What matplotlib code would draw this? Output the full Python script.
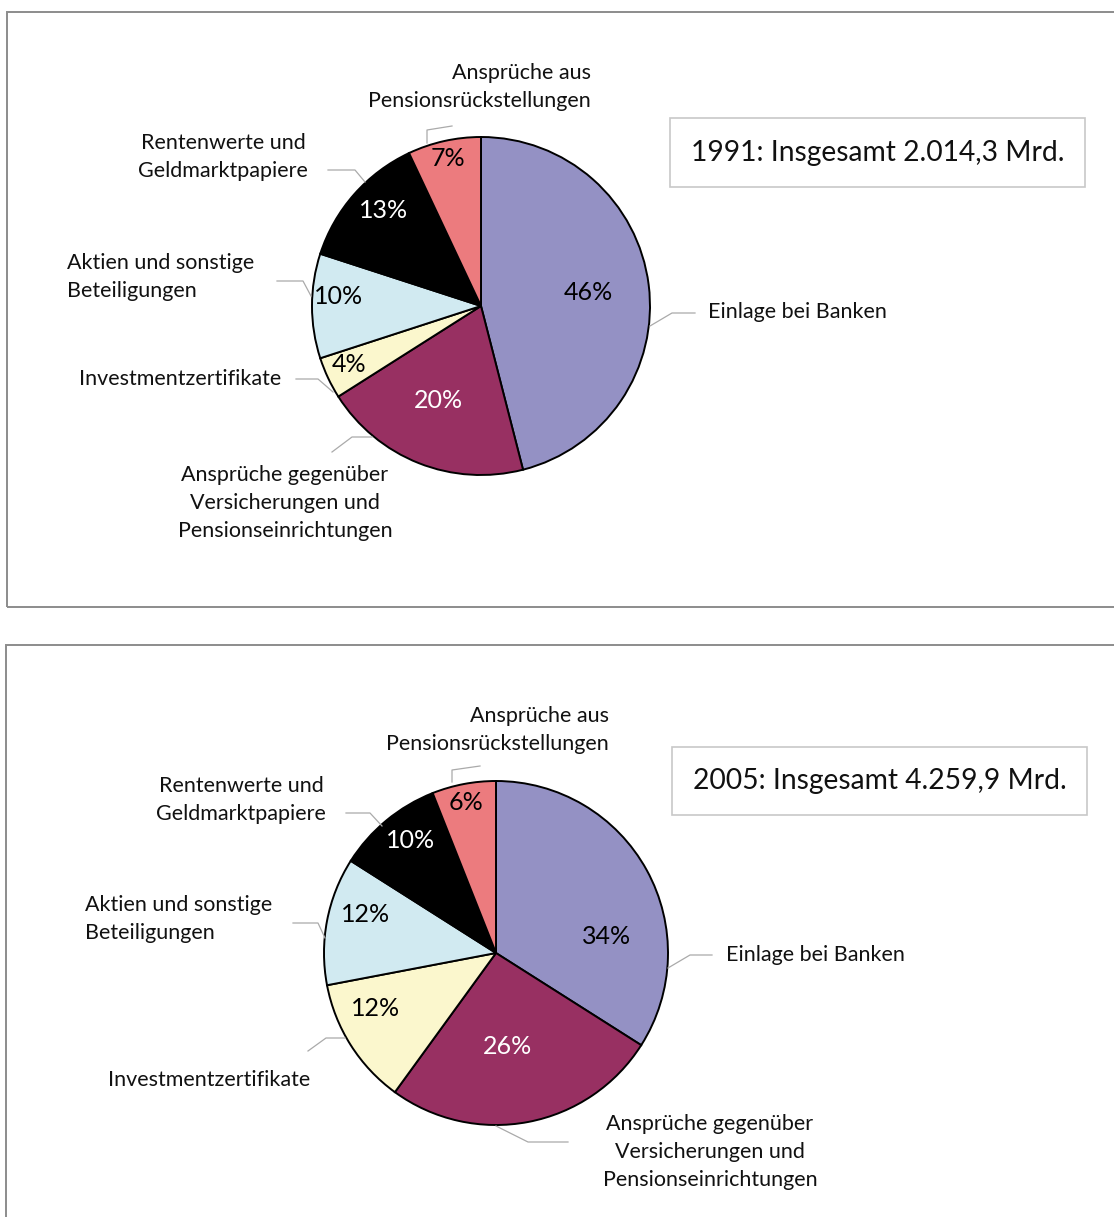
import matplotlib
matplotlib.use("Agg")
import matplotlib.pyplot as plt
from matplotlib.patches import Rectangle

W, H = 1114, 1217

plt.rcParams['font.family'] = ['Lato', 'DejaVu Sans']

# data
categories = ["Einlage bei Banken",
              "Ansprüche gegenüber\nVersicherungen und\nPensionseinrichtungen",
              "Investmentzertifikate",
              "Aktien und sonstige\nBeteiligungen",
              "Rentenwerte und\nGeldmarktpapiere",
              "Ansprüche aus\nPensionsrückstellungen"]
shares_1991 = [46, 20, 4, 10, 13, 7]
shares_2005 = [34, 26, 12, 12, 10, 6]
titles = ["1991: Insgesamt 2.014,3 Mrd.", "2005: Insgesamt 4.259,9 Mrd."]

colors = ["#9491c4", "#983062", "#fbf7cd", "#d1eaf1", "#000000", "#ec7b7e"]
pct_colors = ["black", "white", "black", "black", "white", "black"]


def Y(y):
    # pixel row (from top) -> data y
    return H - y


# layout per panel (pixel coords, y from top)
layouts = [
    dict(center=(481, 306), radius=169,
         pct_pos=[(588, 293), (438, 400), (349, 365), (339, 297), (384, 211), (448, 159)],
         label_pos=[(708, 312, 'left'), (285, 503, 'center'), (180, 379, 'center'),
                    (67, 277, 'left'), (223, 157, 'center'), (591, 87, 'right')],
         leaders=[[(650, 326), (672, 313), (695, 313)],
                  [(372, 437), (352, 437), (332, 452)],
                  [(333, 392), (318, 379), (296, 379)],
                  [(311, 296), (303, 281), (277, 281)],
                  [(365, 182), (355, 170), (328, 170)],
                  [(427, 143), (427, 130), (452, 126)]],
         box=(670, 118, 1085, 187), frame=(7, 12, 607)),
    dict(center=(496, 953), radius=172,
         pct_pos=[(607, 936), (508, 1047), (376, 1008), (366, 914), (411, 841), (466, 803)],
         label_pos=[(726, 955, 'left'), (710, 1152, 'center'), (209, 1080, 'center'),
                    (85, 919, 'left'), (241, 800, 'center'), (609, 730, 'right')],
         leaders=[[(668, 968), (690, 955), (712, 955)],
                  [(496, 1126), (528, 1142), (568, 1142)],
                  [(345, 1038), (326, 1038), (308, 1051)],
                  [(325, 938), (318, 923), (293, 923)],
                  [(382, 826), (370, 813), (346, 813)],
                  [(452, 782), (452, 770), (480, 766)]],
         box=(672, 747, 1087, 815), frame=(6, 645, 1240)),
]

fig = plt.figure(figsize=(W / 100, H / 100), dpi=100)
ax = fig.add_axes([0, 0, 1, 1])

for shares, title, lay in zip([shares_1991, shares_2005], titles, layouts):
    x0, top, bottom = lay['frame']
    ax.add_patch(Rectangle((x0, Y(bottom)), W + 20 - x0, bottom - top,
                           fill=False, edgecolor='#8c8c8c', linewidth=1.4))

    cx, cy = lay['center']
    ax.pie(shares, colors=colors, startangle=90, counterclock=False,
           center=(cx, Y(cy)), radius=lay['radius'],
           wedgeprops=dict(edgecolor='black', linewidth=1.4))

    for v, (px, py), c in zip(shares, lay['pct_pos'], pct_colors):
        ax.text(px, Y(py), f"{v}%", fontsize=18, color=c, ha='center', va='center')

    for cat, (lx, ly, al), pts in zip(categories, lay['label_pos'], lay['leaders']):
        ax.text(lx, Y(ly), cat, fontsize=15.5, ha=al, va='center',
                multialignment=al, linespacing=1.52, color='#111111')
        ax.plot([p[0] for p in pts], [Y(p[1]) for p in pts],
                color='#aaaaaa', linewidth=0.9)

    bx0, by0, bx1, by1 = lay['box']
    ax.add_patch(Rectangle((bx0, Y(by1)), bx1 - bx0, by1 - by0,
                           fill=False, edgecolor='#c8c8c8', linewidth=1.2))
    ax.text((bx0 + bx1) / 2, Y((by0 + by1) / 2), title, fontsize=20.3,
            ha='center', va='center', color='#111111')

ax.set_xlim(0, W)
ax.set_ylim(0, H)
ax.set_aspect('auto')
ax.axis('off')

fig.savefig("out.png", dpi=100, facecolor='white')
